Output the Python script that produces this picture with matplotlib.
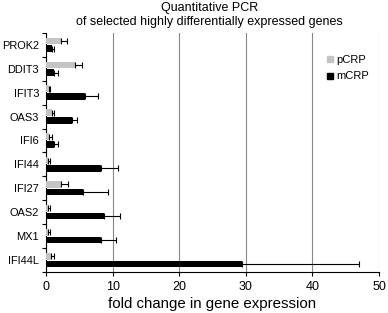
import numpy as np
import matplotlib
matplotlib.use('Agg')
import matplotlib.pyplot as plt
from matplotlib import rcParams

rcParams['font.family'] = ['Liberation Sans', 'DejaVu Sans']

genes = ['PROK2', 'DDIT3', 'IFIT3', 'OAS3', 'IFI6', 'IFI44', 'IFI27', 'OAS2', 'MX1', 'IFI44L']
pcrp = [2.2, 4.3, 0.4, 0.85, 0.5, 0.3, 2.25, 0.35, 0.3, 0.7]
pcrp_err = [0.9, 1.1, 0.2, 0.35, 0.35, 0.25, 1.1, 0.2, 0.25, 0.55]
mcrp = [0.85, 1.2, 5.8, 3.9, 1.2, 8.25, 5.5, 8.65, 8.25, 29.4]
mcrp_err = [0.4, 0.65, 2.05, 0.8, 0.65, 2.6, 3.8, 2.45, 2.25, 17.6]

fig = plt.figure(figsize=(3.88, 3.13), dpi=100)
ax = fig.add_axes([0.1186, 0.131, 0.8584, 0.764])

y = np.arange(len(genes))
h = 0.28
ax.barh(y - h / 2 - 0.02, pcrp, height=h, color='#c4c4c4', zorder=3,
        xerr=[np.zeros(len(genes)), pcrp_err],
        error_kw=dict(ecolor='black', elinewidth=0.8, capsize=2, capthick=0.8))
ax.barh(y + h / 2 + 0.02, mcrp, height=h, color='black', zorder=3,
        xerr=[np.zeros(len(genes)), mcrp_err],
        error_kw=dict(ecolor='black', elinewidth=0.8, capsize=2, capthick=0.8))

ax.set_ylim(len(genes) - 0.5, -0.5)
ax.set_xlim(0, 50)
ax.set_yticks(y)
ax.set_yticklabels(genes, fontsize=7.9)
ax.set_yticks(np.arange(-0.5, len(genes), 1), minor=True)
ax.tick_params(axis='y', which='major', length=0, pad=5)
ax.tick_params(axis='y', which='minor', length=3, width=0.8)
ax.set_xticks(np.arange(0, 51, 10))
ax.tick_params(axis='x', labelsize=9, length=3, width=0.8)

for s in ['top', 'right']:
    ax.spines[s].set_visible(False)
ax.spines['left'].set_linewidth(0.8)
ax.spines['bottom'].set_linewidth(0.8)
ax.xaxis.grid(True, color='#888888', linewidth=0.8, zorder=0)
ax.set_axisbelow(True)

ax.set_xlabel('fold change in gene expression', fontsize=10.8, labelpad=3)
fig.text(0.54, 0.995, 'Quantitative PCR\nof selected highly differentially expressed genes',
         fontsize=9, linespacing=1.3, ha='center', va='top')

ax.plot([], [], 's', color='#c4c4c4', markersize=4, label='pCRP')
ax.plot([], [], 's', color='black', markersize=4, label='mCRP')
ax.legend(loc='upper right', bbox_to_anchor=(1.0, 0.95), frameon=False,
          fontsize=8, handlelength=0.6, handletextpad=0.3, labelspacing=0.6)

fig.savefig('out.png', dpi=100)
